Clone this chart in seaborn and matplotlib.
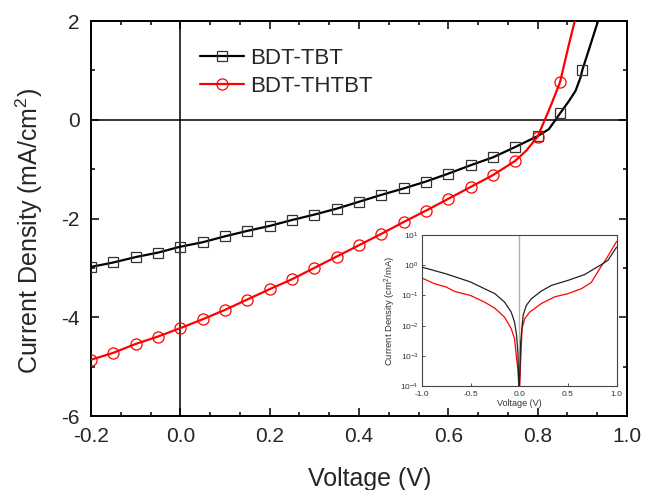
import matplotlib
matplotlib.use("Agg")
import numpy as np
import pandas as pd
import seaborn as sns
import matplotlib.pyplot as plt
from matplotlib.lines import Line2D
from matplotlib.ticker import MultipleLocator, AutoMinorLocator, LogLocator, NullLocator

# ---- J-V sweep under illumination (symbols every 50 mV) ----
v_marked = [-0.20, -0.15, -0.10, -0.05, 0.00, 0.05, 0.10, 0.15, 0.20, 0.25, 0.30, 0.35,
            0.40, 0.45, 0.50, 0.55, 0.60, 0.65, 0.70, 0.75, 0.80, 0.85, 0.90]
j_tbt_marked = [-2.98, -2.89, -2.78, -2.69, -2.57, -2.48, -2.36, -2.25, -2.15, -2.03, -1.92, -1.80,
                -1.66, -1.52, -1.39, -1.25, -1.09, -0.92, -0.76, -0.55, -0.33, 0.13, 1.01]
j_thtbt_marked = [-4.86, -4.72, -4.54, -4.39, -4.22, -4.04, -3.85, -3.64, -3.43, -3.23, -3.00, -2.77,
                  -2.54, -2.31, -2.07, -1.84, -1.60, -1.36, -1.12, -0.83, -0.34, 0.76]

# additional points along the steep forward-bias part of each curve
v_tbt_extra = [0.825, 0.84, 0.87, 0.885, 0.896, 0.915, 0.934, 0.945]
j_tbt_extra = [-0.19, 0.00, 0.38, 0.59, 0.86, 1.43, 1.97, 2.30]
v_thtbt_extra = [0.775, 0.816, 0.83, 0.87, 0.883, 0.89]
j_thtbt_extra = [-0.62, 0.00, 0.30, 1.53, 2.00, 2.30]

# ---- dark current, |J| on log scale ----
inset_v_tbt = [-1.0, -0.75, -0.5, -0.356, -0.25, -0.15, -0.082, -0.048, -0.027, -0.014, 0.0,
               0.015, 0.04, 0.073, 0.125, 0.227, 0.33, 0.5, 0.67, 0.74, 0.84, 0.91, 1.0]
inset_j_tbt = [0.87, 0.52, 0.28, 0.167, 0.115, 0.06, 0.028, 0.013, 0.0048, 0.0013, 5e-5,
               0.0029, 0.022, 0.047, 0.078, 0.14, 0.215, 0.316, 0.49, 0.67, 1.04, 1.45, 4.0]
inset_v_thtbt = [-1.0, -0.87, -0.75, -0.664, -0.5, -0.356, -0.25, -0.15, -0.082, -0.048, -0.027,
                 -0.014, 0.0, 0.01, 0.029, 0.056, 0.107, 0.227, 0.364, 0.5, 0.637, 0.74, 0.826,
                 0.894, 1.0]
inset_j_thtbt = [0.38, 0.245, 0.19, 0.136, 0.1, 0.06, 0.038, 0.019, 0.0079, 0.0037, 0.0008,
                 0.00037, 5e-5, 0.0003, 0.008, 0.017, 0.028, 0.054, 0.09, 0.115, 0.167, 0.27, 0.77,
                 1.64, 6.2]

series_names = ["BDT-TBT", "BDT-THTBT"]

sns.set_theme(style="ticks")
plt.rcParams["font.family"] = ["Liberation Sans", "DejaVu Sans"]
plt.rcParams["mathtext.fontset"] = "custom"
plt.rcParams["mathtext.rm"] = "Liberation Sans"
plt.rcParams["mathtext.it"] = "Liberation Sans:italic"

fig = plt.figure(figsize=(6.45, 4.9), dpi=100)
ax = fig.add_axes([0.1411, 0.1510, 0.831, 0.806])


def curve_frame(v_mark, j_mark, v_extra, j_extra):
    df = pd.DataFrame({"V": list(v_mark) + list(v_extra), "J": list(j_mark) + list(j_extra)})
    return df.sort_values("V").reset_index(drop=True)


tbt_line = curve_frame(v_marked, j_tbt_marked, v_tbt_extra, j_tbt_extra)
thtbt_line = curve_frame(v_marked[:len(j_thtbt_marked)], j_thtbt_marked,
                         v_thtbt_extra, j_thtbt_extra)
tbt_marks = pd.DataFrame({"V": v_marked, "J": j_tbt_marked})
thtbt_marks = pd.DataFrame({"V": v_marked[:len(j_thtbt_marked)], "J": j_thtbt_marked})

# axis cross lines
ax.axhline(0, color="black", lw=1.1, zorder=1)
ax.axvline(0, color="black", lw=1.1, zorder=1)

black_col = "black"
red_col = "#ff0000"
sns.lineplot(data=tbt_line, x="V", y="J", ax=ax, color=black_col, lw=1.6,
             estimator=None, errorbar=None, legend=False, zorder=3)
sns.lineplot(data=tbt_marks, x="V", y="J", ax=ax, color=black_col, ls="none", marker="s",
             ms=6.8, mfc="none", mec="#333333", mew=0.9, estimator=None, errorbar=None,
             legend=False, zorder=4)
sns.lineplot(data=thtbt_line, x="V", y="J", ax=ax, color=red_col, lw=1.6,
             estimator=None, errorbar=None, legend=False, zorder=3)
sns.lineplot(data=thtbt_marks, x="V", y="J", ax=ax, color=red_col, ls="none", marker="o",
             ms=8, mfc="none", mec=red_col, mew=0.9, estimator=None, errorbar=None,
             legend=False, zorder=4)

ax.set_xlim(-0.2, 1.0)
ax.set_ylim(-6, 2)
ax.xaxis.set_major_locator(MultipleLocator(0.2))
ax.xaxis.set_minor_locator(AutoMinorLocator(3))
ax.yaxis.set_major_locator(MultipleLocator(2))
ax.yaxis.set_minor_locator(AutoMinorLocator(2))
ax.set_xticks([-0.2, 0.0, 0.2, 0.4, 0.6, 0.8, 1.0])
ax.set_xticklabels(["-0.2", "0.0", "0.2", "0.4", "0.6", "0.8", "1.0"])
ax.set_yticks([-6, -4, -2, 0, 2])
ax.set_yticklabels(["-6", "-4", "-2", "0", "2"])
ax.tick_params(which="both", direction="in", top=True, right=True, width=1.1, color="black")
ax.tick_params(which="major", length=5.5, labelsize=15, pad=8)
ax.tick_params(which="minor", length=3)
for s in ax.spines.values():
    s.set_linewidth(1.4)
    s.set_color("black")

ax.set_xlabel("Voltage (V)", fontsize=18)
ax.set_ylabel("Current Density (mA/cm$^2$)", fontsize=18)
ax.xaxis.set_label_coords(0.52, -0.129)
ax.yaxis.set_label_coords(-0.086, 0.468)

handles = [
    Line2D([], [], color=black_col, lw=1.6, marker="s", ms=6.8, mfc="none", mec="#333333", mew=0.9),
    Line2D([], [], color=red_col, lw=1.6, marker="o", ms=8, mfc="none", mec=red_col, mew=0.9),
]
ax.legend(handles, series_names, loc="upper left", bbox_to_anchor=(0.203, 0.932), frameon=False,
          fontsize=16, handlelength=2.0, handletextpad=0.25, labelspacing=0.3,
          borderpad=0, borderaxespad=0)

# ---- inset: dark J-V on log scale ----
ins = fig.add_axes([0.654, 0.2122, 0.302, 0.308])
ins.axvline(0, color="#b0b0b0", lw=1.0, zorder=1)
sns.lineplot(x=inset_v_tbt, y=inset_j_tbt, ax=ins, color="#222222", lw=0.9,
             estimator=None, errorbar=None, legend=False, zorder=3)
sns.lineplot(x=inset_v_thtbt, y=inset_j_thtbt, ax=ins, color=red_col, lw=0.9,
             estimator=None, errorbar=None, legend=False, zorder=2)
ins.set_yscale("log")
ins.set_xlim(-1.0, 1.0)
ins.set_ylim(1e-4, 1e1)
ins.set_xticks([-1.0, -0.5, 0.0, 0.5, 1.0])
ins.set_xticklabels(["-1.0", "-0.5", "0.0", "0.5", "1.0"])
ins.yaxis.set_major_locator(LogLocator(base=10, numticks=10))
ins.yaxis.set_minor_locator(NullLocator())
ins.tick_params(which="both", direction="in", length=2, width=0.6, labelsize=6,
                color="#333333", labelcolor="#333333")
ins.tick_params(axis="x", pad=3.5)
ins.tick_params(axis="y", pad=2.5)
for s in ins.spines.values():
    s.set_linewidth(0.8)
    s.set_color("#444444")
ins.set_xlabel("Voltage (V)", fontsize=6.5, labelpad=1, color="#333333")
ins.set_ylabel("Current Density (cm$^2$/mA)", fontsize=6.8, labelpad=2, color="#333333")

fig.savefig("out.png", dpi=100)
